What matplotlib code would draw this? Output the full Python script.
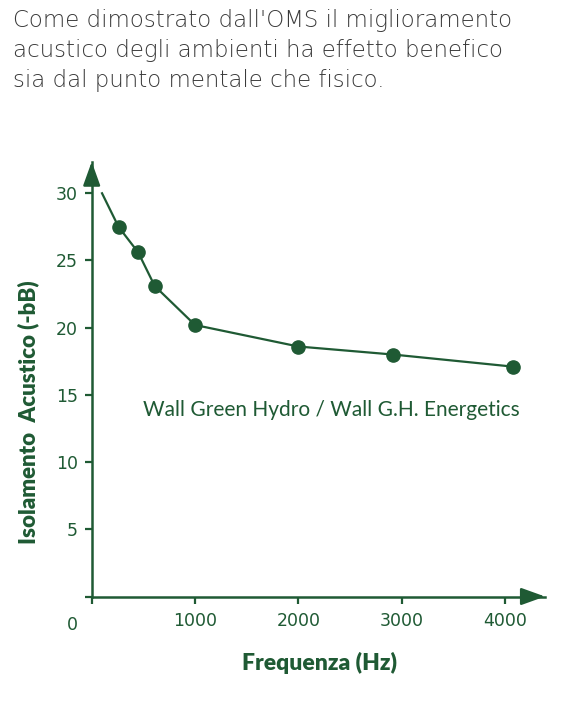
import matplotlib
matplotlib.use("Agg")
import matplotlib.pyplot as plt

# data
freq = [100, 260, 450, 610, 1000, 2000, 2920, 4080]
isolamento = [30.0, 27.5, 25.6, 23.1, 20.2, 18.6, 18.0, 17.1]
x_ticks = [1000, 2000, 3000, 4000]
y_ticks = [5, 10, 15, 20, 25, 30]

title = ("Come dimostrato dall'OMS il miglioramento\n"
         "acustico degli ambienti ha effetto benefico\n"
         "sia dal punto mentale che fisico.")
series_name = "Wall Green Hydro / Wall G.H. Energetics"

green = "#1f5a34"
plt.rcParams['font.family'] = ['Lato', 'DejaVu Sans']

W, H = 561, 713
fig = plt.figure(figsize=(W / 100, H / 100), dpi=100)

# axes box in pixels: y axis at x=92, x axis at y=596.5, arrow tips at x=545 / y=162
left, right, bottom, top = 91.7, 545, 596.5, 161.7
ax = fig.add_axes([left / W, (H - bottom) / H, (right - left) / W, (bottom - top) / H])
ax.set_xlim(0, 4387)
ax.set_ylim(0, 32.35)

ax.plot(freq, isolamento, color=green, lw=1.6, marker='o', ms=9.5,
        markevery=list(range(1, len(freq))), zorder=3)

for s in ['top', 'right']:
    ax.spines[s].set_visible(False)
for s in ['left', 'bottom']:
    ax.spines[s].set_color(green)
    ax.spines[s].set_linewidth(1.8)

ax.set_xticks([0] + x_ticks)
ax.set_xticklabels([''] + [str(t) for t in x_ticks])
ax.set_yticks([0] + y_ticks)
ax.set_yticklabels([''] + [str(t) for t in y_ticks])
ax.tick_params(axis='both', colors=green, length=5, width=1.6)
ax.tick_params(axis='x', labelsize=12.5, pad=6)
ax.tick_params(axis='y', labelsize=12.5, pad=5)
for lab in ax.get_xticklabels() + ax.get_yticklabels():
    lab.set_fontfamily('DejaVu Sans')

# arrow heads on the axes
ax.annotate('', xy=(1, 0), xycoords='axes fraction', xytext=(0.95, 0),
            arrowprops=dict(arrowstyle='-|>,head_length=1.0,head_width=0.36',
                            mutation_scale=14.5, color=green, lw=1.8,
                            shrinkA=0, shrinkB=0), annotation_clip=False)
ax.annotate('', xy=(0, 1), xycoords='axes fraction', xytext=(0, 0.95),
            arrowprops=dict(arrowstyle='-|>,head_length=1.0,head_width=0.36',
                            mutation_scale=14.5, color=green, lw=1.8,
                            shrinkA=0, shrinkB=0), annotation_clip=False)

fig.text(72 / W, 1 - 625 / H, '0', color=green, fontsize=12.5,
         family='DejaVu Sans', ha='center', va='center')

fig.text(320 / W, 1 - 663 / H, 'Frequenza (Hz)', color=green, fontsize=16.5,
         fontweight='heavy', ha='center', va='center')
fig.text(28 / W, 1 - 412 / H, 'Isolamento  Acustico (-bB)', color=green,
         fontsize=16, fontweight='heavy', rotation=90, ha='center', va='center')

fig.text(331 / W, 1 - 410 / H, series_name, color=green, fontsize=15,
         ha='center', va='center')

fig.text(13 / W, 1 - 9 / H, title, color='#3a3a3a', fontsize=16.5,
         family='DejaVu Sans', fontweight='light', ha='left', va='top',
         linespacing=1.4)

fig.savefig('out.png', dpi=100)
